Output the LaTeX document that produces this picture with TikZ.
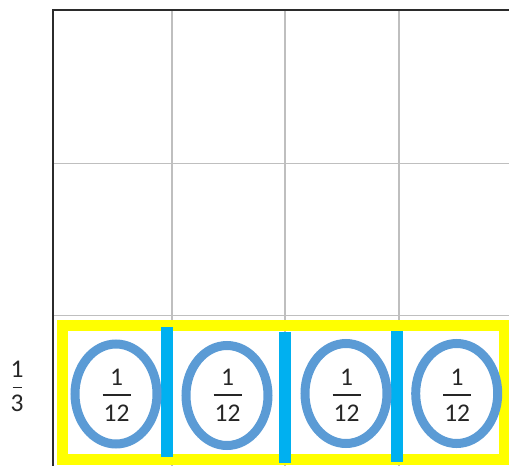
\documentclass[tikz,border=0pt]{standalone}
\usepackage{fontspec}
\setmainfont{Carlito}
\usetikzlibrary{shapes.geometric}
\definecolor{gridgray}{HTML}{BFBFBF}
\definecolor{edgeblack}{HTML}{2B2B2B}
\definecolor{ringblue}{HTML}{5B9BD5}
\definecolor{barcyan}{HTML}{00B0F0}
\definecolor{hiyellow}{HTML}{FFFF00}
\definecolor{txt}{HTML}{262626}
\tikzset{
  gridline/.style={draw=gridgray, line width=1.5pt},
  edgeline/.style={draw=edgeblack, line width=2pt},
  ring/.style={ellipse, draw=ringblue, line width=9pt, minimum width=82pt, minimum height=100pt, inner sep=0pt},
  divider/.style={rectangle, fill=barcyan, inner sep=0pt, minimum width=12pt},
  digit/.style={inner sep=0pt, text=txt, font=\fontsize{25.5}{30}\selectfont},
  fracbar/.style={draw=txt, line width=1.5pt},
}
\begin{document}
\begin{tikzpicture}[x=1pt,y=-1pt]
\useasboundingbox (0,0) rectangle (509,466);
% grid
\foreach \gx in {172,285,399} \draw[gridline] (\gx,10) -- (\gx,466);
\foreach \gy in {163.3,315.7} \draw[gridline] (53,\gy) -- (509,\gy);
\draw[edgeline] (509,10) -- (53,10) -- (53,466);
% yellow frame
\draw[draw=hiyellow, line width=10.5pt] (62.5,325.5) rectangle (504,459.5);
% dividers
\node[divider, minimum height=129.7pt] (bar1) at (166.5,391.85) {};
\node[divider, minimum height=131pt] (bar2) at (284.5,397.5) {};
\node[divider, minimum height=131pt] (bar3) at (397.2,396.2) {};
% rings with fractions
\foreach \i/\cx/\cy in {1/116/394, 2/227/395.5, 3/346/393.5, 4/456.7/393.5}{
  \node[ring] (e\i) at (\cx,\cy) {};
  \node[digit] (n\i) at (\cx+0.5,377) {1};
  \node[digit] (d\i) at (\cx+0.5,413) {12};
  \draw[fracbar] (\cx-13.5,395) -- (\cx+14.5,395);
}
% left label
\node[digit] (ln) at (17,369) {1};
\node[digit] (ld) at (17,403) {3};
\draw[draw=txt, line width=1pt] (12.5,387.5) -- (21.5,387.5);
\end{tikzpicture}
\end{document}
